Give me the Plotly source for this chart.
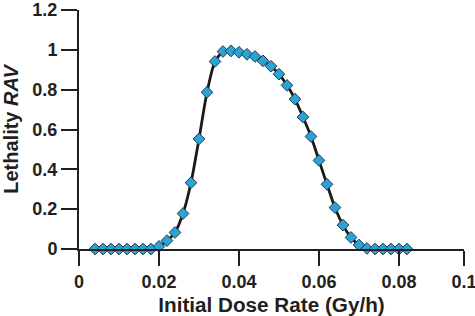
import plotly.graph_objects as go

dose_rate = [0.004, 0.006, 0.008, 0.010, 0.012, 0.014, 0.016, 0.018,
             0.020, 0.022, 0.024, 0.026, 0.028, 0.030, 0.032, 0.034,
             0.036, 0.038, 0.040, 0.042, 0.044, 0.046, 0.048, 0.050,
             0.052, 0.054, 0.056, 0.058, 0.060, 0.062, 0.064, 0.066,
             0.068, 0.070, 0.072, 0.074, 0.076, 0.078, 0.080, 0.082]
lethality = [0, 0, 0, 0, 0, 0, 0, 0,
             0.013, 0.042, 0.083, 0.178, 0.333, 0.553, 0.787, 0.942,
             0.992, 0.995, 0.988, 0.978, 0.967, 0.945, 0.918, 0.878,
             0.822, 0.753, 0.663, 0.565, 0.445, 0.325, 0.208, 0.12,
             0.058, 0.02, 0.003, 0, 0, 0, 0, 0]
x_tick_vals = [0, 0.02, 0.04, 0.06, 0.08, 0.09625]
x_tick_text = ["0", "0.02", "0.04", "0.06", "0.08", "0.1"]
y_tick_vals = [0, 0.2, 0.4, 0.6, 0.8, 1.0, 1.2]
y_tick_text = ["0", "0.2", "0.4", "0.6", "0.8", "1", "1.2"]

ink = "#231f20"
fam = "Liberation Sans, Arial, sans-serif"
fig = go.Figure()
fig.add_trace(go.Scatter(
    x=dose_rate, y=lethality, mode="lines+markers",
    line=dict(color="#1a1a1a", width=2.8, shape="spline", smoothing=0.6),
    marker=dict(symbol="diamond", size=9, color="#2ba3d6",
                line=dict(color="#1d3a4a", width=1)),
    showlegend=False, cliponaxis=False,
))

fig.update_layout(
    width=475, height=316,
    margin=dict(l=79, r=11, t=10, b=67),
    paper_bgcolor="white", plot_bgcolor="white",
    font=dict(family=fam, size=18, color=ink),
    xaxis=dict(
        range=[0, 0.09626], tickvals=x_tick_vals, ticktext=x_tick_text,
        showgrid=False, zeroline=False, showline=True, linecolor=ink, linewidth=2,
        ticks="outside", ticklen=15, tickwidth=2, tickcolor=ink,
        automargin=False, ticklabeloverflow="allow",
        tickfont=dict(family=fam, size=18, color=ink, weight="bold"),
        title=dict(text="<b>Initial Dose Rate (Gy/h)</b>", standoff=9,
                   font=dict(family=fam, size=20.7, color=ink)),
    ),
    yaxis=dict(
        range=[0, 1.2005], tickvals=y_tick_vals, ticktext=y_tick_text,
        showgrid=False, zeroline=False, showline=True, linecolor=ink, linewidth=2,
        ticks="outside", ticklen=16, tickwidth=2, tickcolor=ink,
        automargin=False, ticklabeloverflow="allow",
        tickfont=dict(family=fam, size=18, color=ink, weight="bold"),
        title=dict(text="<b>Lethality <i>RAV</i></b>", standoff=9,
                   font=dict(family=fam, size=20, color=ink)),
    ),
)
fig.write_html("out.html", config={"displayModeBar": False},
               post_script="document.body.style.margin='0';document.body.style.overflow='hidden';")
